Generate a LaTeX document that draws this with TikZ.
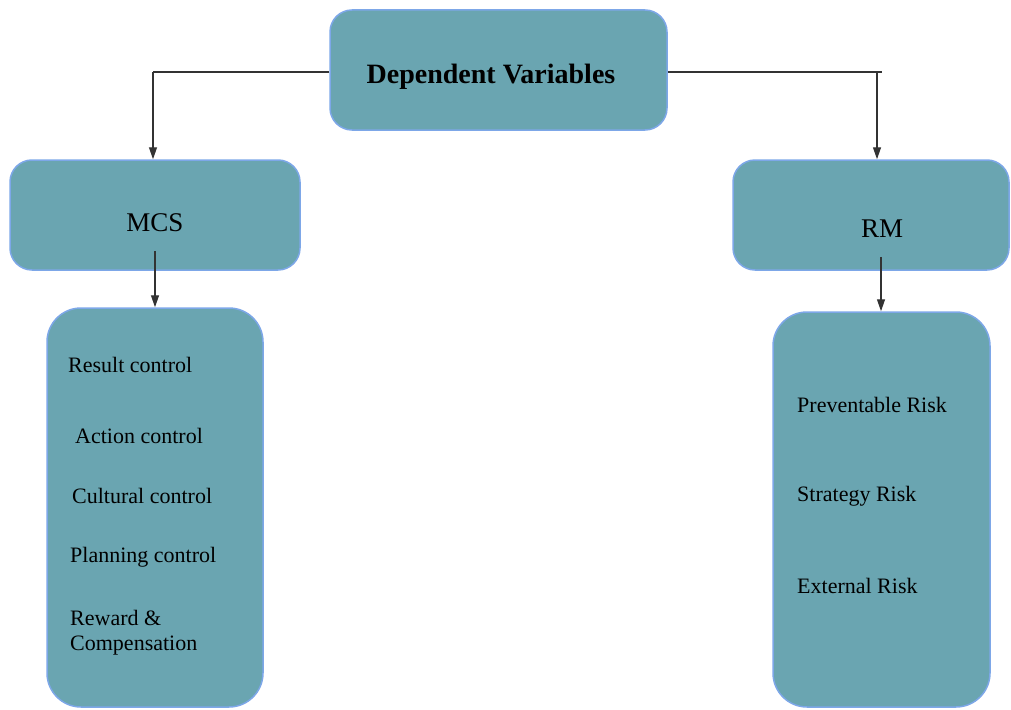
\documentclass[tikz,border=0pt]{standalone}
\usepackage{fontspec}
\setmainfont{Liberation Serif}
\usetikzlibrary{arrows.meta}
\definecolor{boxfill}{HTML}{6AA5B1}
\definecolor{boxline}{HTML}{7DA7E8}
\begin{document}
\begin{tikzpicture}[x=1pt,y=-1pt,
  box/.style={draw=boxline, line width=1.5pt, fill=boxfill, rounded corners=22pt, inner sep=0pt},
  listbox/.style={box, rounded corners=34pt},
  conn/.style={draw=black!80, line width=1.3pt},
  arr/.style={conn, -{Triangle[length=12pt,width=8pt]}},
  titletext/.style={inner sep=0pt, anchor=base, font=\fontsize{28}{32}\selectfont\bfseries},
  headtext/.style={inner sep=0pt, anchor=base, font=\fontsize{27}{30}\selectfont},
  itemtext/.style={inner sep=0pt, anchor=base west, align=left, font=\fontsize{22}{25}\selectfont}
]
\useasboundingbox (0,0) rectangle (1011,709);

% boxes
\node[box, minimum width=337pt, minimum height=120pt] (top) at (498.5,70) {};
\node[box, minimum width=290pt, minimum height=110pt] (mcs) at (155,215) {};
\node[box, minimum width=276pt, minimum height=110pt] (rm) at (871,215) {};
\node[listbox, minimum width=216pt, minimum height=399pt] (mcslist) at (155,507.5) {};
\node[listbox, minimum width=217pt, minimum height=395pt] (rmlist) at (881.5,509.5) {};

% texts
\node[titletext] (ttop) at (491,83) {Dependent Variables};
\node[headtext] (tmcs) at (155,231) {MCS};
\node[headtext] (trm) at (882,237) {RM};

\node[itemtext] (i1) at (68,372) {Result control};
\node[itemtext] (i2) at (75,443) {Action control};
\node[itemtext] (i3) at (72,503) {Cultural control};
\node[itemtext] (i4) at (70,562) {Planning control};
\node[itemtext] (i5) at (70,650) {Reward \&\\Compensation};

\node[itemtext] (r1) at (797,412) {Preventable Risk};
\node[itemtext] (r2) at (797,501) {Strategy Risk};
\node[itemtext] (r3) at (797,593) {External Risk};

% connectors
\coordinate (lc) at (153,72);
\coordinate (rc) at (877,72);
\draw[conn] (top.west |- lc) -- (lc);
\draw[arr] (lc) -- (lc |- mcs.north);
\draw[conn] (top.east |- rc) -- ([xshift=5pt]rc);
\draw[arr] (rc) -- (rc |- rm.north);
\draw[arr] ([yshift=20pt]mcs.south) -- (mcslist.north);
\draw[arr] ([xshift=10pt,yshift=14pt]rm.south) -- ([xshift=-0.5pt]rmlist.north);
\end{tikzpicture}
\end{document}
